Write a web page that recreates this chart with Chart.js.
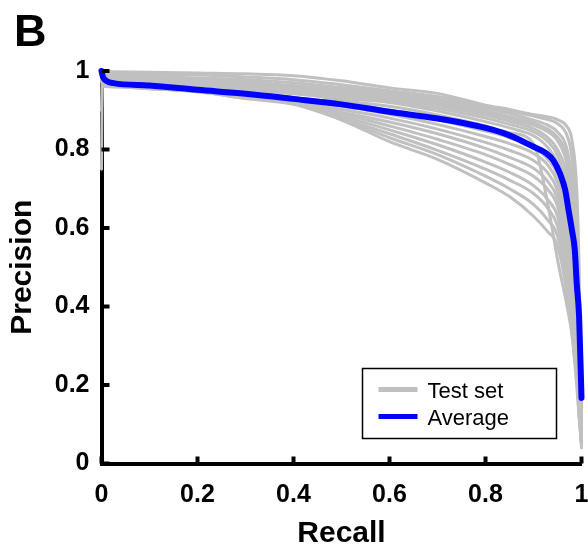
<!DOCTYPE html>
<html>
<head>
<meta charset="utf-8">
<script src="https://cdn.jsdelivr.net/npm/chart.js@4"></script>
<style>
  html, body { margin: 0; padding: 0; background: #fff; }
  #wrap { width: 588px; height: 550px; }
</style>
</head>
<body>
<div id="wrap"><canvas id="pr" width="588" height="550"></canvas></div>
<script>
// Recall sample positions shared by every test-set curve
const recallGrid = [0, 0.002, 0.02, 0.1, 0.2, 0.3, 0.4, 0.5, 0.6, 0.7, 0.8, 0.85, 0.9, 0.93, 0.95, 0.97, 0.98, 0.99, 0.995, 1];

// Precision of each test-set curve at the recall positions above
const testSet01 = [1.000, 0.999, 0.998, 0.997, 0.995, 0.993, 0.988, 0.975, 0.957, 0.943, 0.913, 0.902, 0.889, 0.883, 0.876, 0.858, 0.825, 0.70, 0.50, 0.12];
const testSet02 = [1.000, 0.995, 0.993, 0.992, 0.990, 0.985, 0.978, 0.965, 0.950, 0.935, 0.910, 0.898, 0.885, 0.876, 0.866, 0.835, 0.78, 0.62, 0.42, 0.10];
const testSet03 = [1.000, 0.990, 0.988, 0.986, 0.982, 0.978, 0.970, 0.958, 0.945, 0.928, 0.905, 0.892, 0.875, 0.862, 0.845, 0.80, 0.72, 0.55, 0.36, 0.08];
const testSet04 = [0.750, 0.985, 0.984, 0.982, 0.978, 0.972, 0.963, 0.952, 0.940, 0.922, 0.898, 0.884, 0.868, 0.852, 0.832, 0.78, 0.70, 0.52, 0.33, 0.06];
const testSet05 = [1.000, 0.985, 0.980, 0.976, 0.972, 0.966, 0.958, 0.947, 0.935, 0.917, 0.893, 0.879, 0.862, 0.845, 0.822, 0.76, 0.67, 0.49, 0.30, 0.08];
const testSet06 = [1.000, 0.980, 0.976, 0.972, 0.967, 0.960, 0.952, 0.941, 0.930, 0.912, 0.887, 0.872, 0.853, 0.830, 0.800, 0.73, 0.63, 0.45, 0.27, 0.10];
const testSet07 = [0.900, 0.978, 0.974, 0.969, 0.963, 0.956, 0.947, 0.935, 0.925, 0.905, 0.880, 0.864, 0.845, 0.820, 0.785, 0.70, 0.60, 0.42, 0.25, 0.07];
const testSet08 = [1.000, 0.975, 0.972, 0.966, 0.960, 0.952, 0.942, 0.930, 0.920, 0.898, 0.871, 0.855, 0.835, 0.805, 0.765, 0.67, 0.57, 0.39, 0.23, 0.05];
const testSet09 = [1.000, 0.985, 0.982, 0.978, 0.972, 0.962, 0.948, 0.925, 0.910, 0.888, 0.860, 0.843, 0.815, 0.660, 0.520, 0.40, 0.33, 0.23, 0.17, 0.10];
const testSet10 = [1.000, 0.975, 0.970, 0.963, 0.955, 0.945, 0.932, 0.918, 0.900, 0.876, 0.847, 0.830, 0.805, 0.775, 0.735, 0.63, 0.53, 0.36, 0.21, 0.06];
const testSet11 = [1.000, 0.970, 0.967, 0.961, 0.953, 0.942, 0.927, 0.910, 0.890, 0.864, 0.833, 0.815, 0.790, 0.760, 0.715, 0.61, 0.50, 0.33, 0.19, 0.05];
const testSet12 = [1.000, 0.970, 0.965, 0.960, 0.952, 0.940, 0.922, 0.902, 0.880, 0.852, 0.818, 0.798, 0.772, 0.740, 0.695, 0.58, 0.47, 0.31, 0.18, 0.07];
const testSet13 = [1.000, 0.968, 0.964, 0.958, 0.950, 0.938, 0.918, 0.895, 0.870, 0.840, 0.803, 0.780, 0.752, 0.718, 0.675, 0.56, 0.45, 0.29, 0.16, 0.05];
const testSet14 = [1.000, 0.966, 0.963, 0.957, 0.949, 0.936, 0.924, 0.892, 0.860, 0.826, 0.787, 0.762, 0.732, 0.698, 0.655, 0.53, 0.42, 0.27, 0.15, 0.06];
const testSet15 = [1.000, 0.965, 0.962, 0.957, 0.949, 0.934, 0.920, 0.886, 0.850, 0.812, 0.768, 0.742, 0.708, 0.672, 0.630, 0.51, 0.40, 0.25, 0.14, 0.05];
const testSet16 = [1.000, 0.963, 0.961, 0.956, 0.948, 0.933, 0.918, 0.880, 0.840, 0.798, 0.750, 0.722, 0.688, 0.650, 0.605, 0.49, 0.38, 0.24, 0.13, 0.04];
const testSet17 = [1.000, 0.962, 0.960, 0.955, 0.947, 0.931, 0.916, 0.877, 0.830, 0.787, 0.732, 0.700, 0.660, 0.620, 0.580, 0.46, 0.36, 0.22, 0.12, 0.05];
const testSet18 = [1.000, 0.961, 0.960, 0.955, 0.947, 0.930, 0.915, 0.875, 0.820, 0.775, 0.715, 0.680, 0.630, 0.590, 0.555, 0.43, 0.33, 0.20, 0.12, 0.05];

const testSets = [testSet01, testSet02, testSet03, testSet04, testSet05, testSet06,
                  testSet07, testSet08, testSet09, testSet10, testSet11, testSet12,
                  testSet13, testSet14, testSet15, testSet16, testSet17, testSet18];

// Average precision-recall curve
const averageRecall    = [0, 0.003, 0.01, 0.025, 0.1, 0.2, 0.3, 0.4, 0.5, 0.6, 0.7, 0.8, 0.85, 0.9, 0.927, 0.941, 0.955, 0.966, 0.973, 0.98, 0.986, 0.99, 0.995, 1];
const averagePrecision = [1.0, 0.985, 0.975, 0.969, 0.963, 0.952, 0.942, 0.929, 0.915, 0.896, 0.879, 0.855, 0.836, 0.807, 0.79, 0.773, 0.739, 0.697, 0.646, 0.595, 0.544, 0.459, 0.374, 0.167];

// Axis tick labels
const recallTicks    = ['0', '0.2', '0.4', '0.6', '0.8', '1'];
const precisionTicks = ['0', '0.2', '0.4', '0.6', '0.8', '1'];

const seriesLabels = ['Test set', 'Average'];
const GRAY = '#c0c0c0';
const BLUE = '#0000ff';
const FONT = '"Liberation Sans", Arial, Helvetica, sans-serif';

const toPoints = (xs, ys) => xs.map((x, i) => ({ x: x, y: ys[i] }));

const datasets = [{
  label: seriesLabels[1],
  data: toPoints(averageRecall, averagePrecision),
  borderColor: BLUE,
  borderWidth: 6,
  order: 0
}];
testSets.forEach(p => {
  datasets.push({
    label: seriesLabels[0],
    data: toPoints(recallGrid, p),
    borderColor: GRAY,
    borderWidth: 3,
    order: 1
  });
});

// Inward-pointing tick marks along both axes
const inwardTicks = {
  id: 'inwardTicks',
  afterDatasetsDraw(chart) {
    const { ctx, chartArea: a, scales: { x, y } } = chart;
    ctx.save();
    ctx.strokeStyle = '#000';
    ctx.lineWidth = 4;
    ctx.lineCap = 'butt';
    x.ticks.forEach(t => {
      const px = x.getPixelForValue(t.value);
      ctx.beginPath();
      ctx.moveTo(px, a.bottom);
      ctx.lineTo(px, a.bottom - 7);
      ctx.stroke();
    });
    y.ticks.forEach(t => {
      const py = y.getPixelForValue(t.value);
      ctx.beginPath();
      ctx.moveTo(a.left, py);
      ctx.lineTo(a.left + 8, py);
      ctx.stroke();
    });
    ctx.restore();
  }
};

// Boxed legend in the lower right of the plot area
const boxLegend = {
  id: 'boxLegend',
  afterDraw(chart) {
    const { ctx, chartArea: a } = chart;
    const w = 194, h = 70;
    const bx = a.right - 25 - w, by = a.bottom - 25 - h;
    ctx.save();
    ctx.fillStyle = '#fff';
    ctx.fillRect(bx, by, w, h);
    ctx.strokeStyle = '#000';
    ctx.lineWidth = 1.5;
    ctx.strokeRect(bx, by, w, h);
    const entries = [
      { color: GRAY, text: seriesLabels[0], y: by + 21 },
      { color: BLUE, text: seriesLabels[1], y: by + 48 }
    ];
    ctx.font = '22px ' + FONT;
    ctx.textBaseline = 'middle';
    ctx.textAlign = 'left';
    entries.forEach(e => {
      ctx.strokeStyle = e.color;
      ctx.lineWidth = 5;
      ctx.beginPath();
      ctx.moveTo(bx + 16, e.y);
      ctx.lineTo(bx + 55, e.y);
      ctx.stroke();
      ctx.fillStyle = '#000';
      ctx.fillText(e.text, bx + 65, e.y + 2);
    });
    ctx.restore();
  }
};

// Panel letter in the top-left corner
const panelLetter = {
  id: 'panelLetter',
  afterDraw(chart) {
    const ctx = chart.ctx;
    ctx.save();
    ctx.font = 'bold 45px ' + FONT;
    ctx.fillStyle = '#000';
    ctx.textAlign = 'left';
    ctx.textBaseline = 'alphabetic';
    ctx.fillText('B', 14, 46);
    ctx.restore();
  }
};

new Chart(document.getElementById('pr'), {
  type: 'line',
  data: { datasets: datasets },
  plugins: [inwardTicks, boxLegend, panelLetter],
  options: {
    responsive: false,
    animation: false,
    devicePixelRatio: 1,
    layout: { padding: { top: 71, right: 6.5, bottom: 0, left: 0 } },
    plugins: { legend: { display: false }, tooltip: { enabled: false } },
    elements: {
      point: { radius: 0, hoverRadius: 0 },
      line: { cubicInterpolationMode: 'monotone', borderJoinStyle: 'round', borderCapStyle: 'round', fill: false }
    },
    datasets: { line: { clip: false } },
    scales: {
      x: {
        type: 'linear',
        min: 0, max: 1,
        grid: { drawOnChartArea: false, drawTicks: false },
        border: { display: true, color: '#000', width: 4 },
        ticks: {
          stepSize: 0.2, padding: 17, maxRotation: 0, color: '#000',
          font: { family: FONT, size: 25, weight: 'bold' },
          callback: (v, i) => recallTicks[i]
        },
        title: {
          display: true, text: 'Recall', color: '#000',
          font: { family: FONT, size: 30, weight: 'bold', lineHeight: 1 },
          padding: { top: 0, bottom: 1 }
        },
        afterFit: s => { s.height = 86.5; s.paddingLeft = 0; s.paddingRight = 0; }
      },
      y: {
        type: 'linear',
        min: 0, max: 1,
        grid: { drawOnChartArea: false, drawTicks: false },
        border: { display: true, color: '#000', width: 4 },
        ticks: {
          stepSize: 0.2, padding: 12, color: '#000',
          font: { family: FONT, size: 25, weight: 'bold' },
          callback: (v, i) => precisionTicks[i]
        },
        title: {
          display: true, text: 'Precision', color: '#000',
          font: { family: FONT, size: 30, weight: 'bold', lineHeight: 1 },
          padding: { top: 8, bottom: 0 }
        },
        afterFit: s => { s.width = 101.5; s.paddingTop = 0; s.paddingBottom = 0; }
      }
    }
  }
});
</script>
</body>
</html>
